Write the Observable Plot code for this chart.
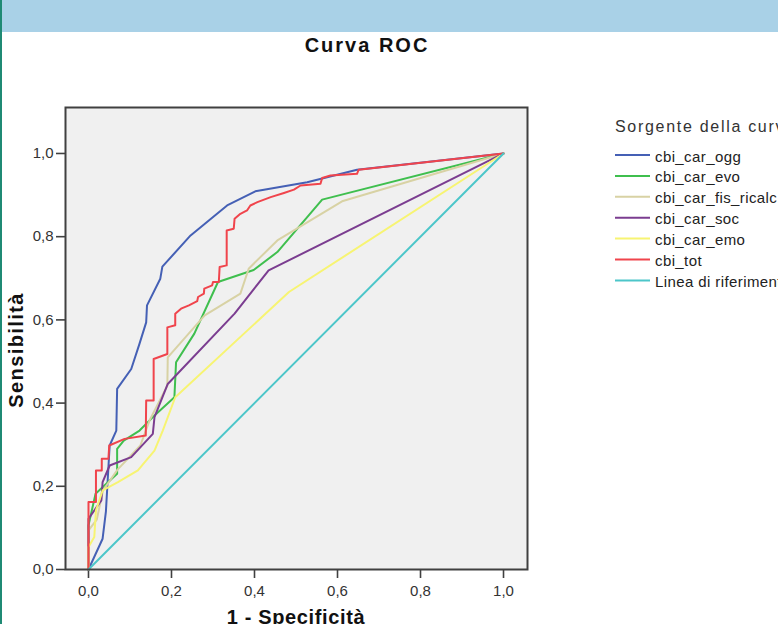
<!DOCTYPE html>
<html>
<head>
<meta charset="utf-8">
<script src="https://cdn.jsdelivr.net/npm/d3@7"></script>
<script src="https://cdn.jsdelivr.net/npm/@observablehq/plot@0.6"></script>
<style>
  html, body { margin: 0; padding: 0; background: #fff; }
  body { width: 778px; height: 624px; overflow: hidden; position: relative; font-family: "Liberation Sans", Arial, sans-serif; }
  #strip { position: absolute; left: 0; top: 0; width: 2px; height: 624px; background: #1f8a74; }
  #banner { position: absolute; left: 2px; top: 0; width: 776px; height: 32px; background: #a9d1e7; overflow: hidden; }
  #chart { position: absolute; left: 0; top: 90px; }
  #overlay { position: absolute; left: 0; top: 0; pointer-events: none; }
</style>
</head>
<body>
<div id="strip"></div>
<div id="banner"></div>
<div id="chart"></div>
<svg id="overlay" width="778" height="624"></svg>
<script>
// ---- data (1 - specificità, sensibilità) ----
const rocOgg = [[0,0],[0.034,0.074],[0.042,0.14],[0.051,0.298],[0.067,0.334],[0.069,0.434],[0.103,0.482],[0.123,0.543],[0.139,0.594],[0.141,0.635],[0.173,0.699],[0.178,0.728],[0.246,0.803],[0.334,0.875],[0.402,0.909],[0.527,0.931],[0.647,0.961],[1,1]];
const rocEvo = [[0,0],[0,0.106],[0.017,0.182],[0.069,0.230],[0.069,0.290],[0.085,0.310],[0.123,0.334],[0.163,0.374],[0.207,0.414],[0.211,0.498],[0.255,0.567],[0.312,0.691],[0.398,0.720],[0.455,0.763],[0.563,0.889],[1,1]];
const rocFis = [[0,0],[0,0.094],[0.02,0.12],[0.035,0.19],[0.07,0.24],[0.125,0.298],[0.147,0.358],[0.19,0.442],[0.191,0.510],[0.280,0.611],[0.366,0.663],[0.386,0.723],[0.455,0.791],[0.611,0.885],[1,1]];
const rocSoc = [[0,0],[0,0.122],[0.031,0.166],[0.034,0.21],[0.051,0.25],[0.103,0.27],[0.155,0.326],[0.159,0.366],[0.191,0.446],[0.352,0.615],[0.434,0.719],[1,1]];
const rocEmo = [[0,0],[0,0.054],[0.014,0.078],[0.018,0.142],[0.034,0.19],[0.071,0.21],[0.119,0.238],[0.159,0.286],[0.179,0.334],[0.209,0.414],[0.483,0.667],[1,1]];
const rocTot = [[0,0],[0,0.162],[0.018,0.162],[0.018,0.238],[0.032,0.238],[0.032,0.266],[0.048,0.266],[0.050,0.298],[0.087,0.314],[0.138,0.322],[0.139,0.406],[0.157,0.406],[0.157,0.506],[0.19,0.518],[0.19,0.582],[0.209,0.587],[0.209,0.615],[0.223,0.627],[0.242,0.635],[0.262,0.645],[0.264,0.655],[0.278,0.663],[0.279,0.675],[0.298,0.683],[0.300,0.691],[0.314,0.691],[0.316,0.727],[0.333,0.731],[0.333,0.815],[0.350,0.819],[0.352,0.843],[0.366,0.855],[0.382,0.863],[0.390,0.875],[0.407,0.883],[0.439,0.895],[0.471,0.905],[0.495,0.913],[0.511,0.923],[0.559,0.927],[0.563,0.941],[0.583,0.947],[0.647,0.951],[0.651,0.961],[1,1]];
const rocRef = [[0,0],[1,1]];

const seriesNames = ["cbi_car_ogg","cbi_car_evo","cbi_car_fis_ricalc","cbi_car_soc","cbi_car_emo","cbi_tot","Linea di riferimento"];
const seriesData = [rocOgg, rocEvo, rocFis, rocSoc, rocEmo, rocTot, rocRef];
const seriesColors = ["#4560b5","#3fbf4e","#d8d2a4","#7b3d90","#f7f472","#f0444c","#4cc6c9"];

const tickValues = [0, 0.2, 0.4, 0.6, 0.8, 1.0];
const tickLabels = ["0,0","0,2","0,4","0,6","0,8","1,0"];

const titleText = "Curva ROC";
const xLabel = "1 - Specificità";
const yLabel = "Sensibilità";
const legendTitle = "Sorgente della curva";

const fmt = d => tickLabels[tickValues.findIndex(t => Math.abs(t - d) < 1e-9)];

const lineMarks = seriesData.map((data, i) =>
  Plot.line(data, {x: d => d[0], y: d => d[1], stroke: seriesColors[i], strokeWidth: 2})
);

const chart = Plot.plot({
  width: 560,
  height: 530,
  marginLeft: 65,
  marginRight: 33,
  marginTop: 17,
  marginBottom: 51,
  style: {fontFamily: "'Liberation Sans', Arial, sans-serif", fontSize: "15px", color: "#333", background: "transparent"},
  x: {domain: [-0.0554, 1.0578]},
  y: {domain: [0, 1.1105]},
  marks: [
    Plot.frame({fill: "#f0f0f0", stroke: "none"}),
    Plot.axisX(tickValues, {tickSize: 9, tickPadding: 7, tickFormat: fmt, label: null, stroke: "#404040", strokeWidth: 1.6, fontSize: 15}),
    Plot.axisY(tickValues, {tickSize: 9, tickPadding: 3, tickFormat: fmt, label: null, stroke: "#404040", strokeWidth: 1.6, fontSize: 15}),
    ...lineMarks,
    Plot.frame({stroke: "#404040", strokeWidth: 2, fill: "none"})
  ]
});
document.getElementById("chart").appendChild(chart);

// ---- title, axis labels, legend ----
const svg = d3.select("#overlay");
svg.append("text").attr("x", 367).attr("y", 52.3).attr("text-anchor", "middle")
  .attr("font-size", 20).attr("font-weight", "bold").attr("letter-spacing", 2).attr("fill", "#111")
  .text(titleText);
svg.append("text").attr("x", 296).attr("y", 623.6).attr("text-anchor", "middle")
  .attr("font-size", 20).attr("font-weight", "bold").attr("letter-spacing", 0.65).attr("fill", "#111")
  .text(xLabel);
svg.append("text").attr("transform", "translate(22.5,350) rotate(-90)").attr("text-anchor", "middle")
  .attr("font-size", 20).attr("font-weight", "bold").attr("letter-spacing", 1.4).attr("fill", "#111")
  .text(yLabel);

svg.append("text").attr("x", 615).attr("y", 131.7).attr("font-size", 16).attr("letter-spacing", 1.7).attr("fill", "#333")
  .text(legendTitle);
seriesNames.forEach((name, i) => {
  const cy = 155 + 20.9 * i;
  svg.append("line").attr("x1", 615).attr("x2", 650).attr("y1", cy).attr("y2", cy)
    .attr("stroke", seriesColors[i]).attr("stroke-width", 2);
  svg.append("text").attr("x", 655).attr("y", cy + 6.5).attr("font-size", 15).attr("letter-spacing", 0.4).attr("fill", "#222")
    .text(name);
});
</script>
</body>
</html>
